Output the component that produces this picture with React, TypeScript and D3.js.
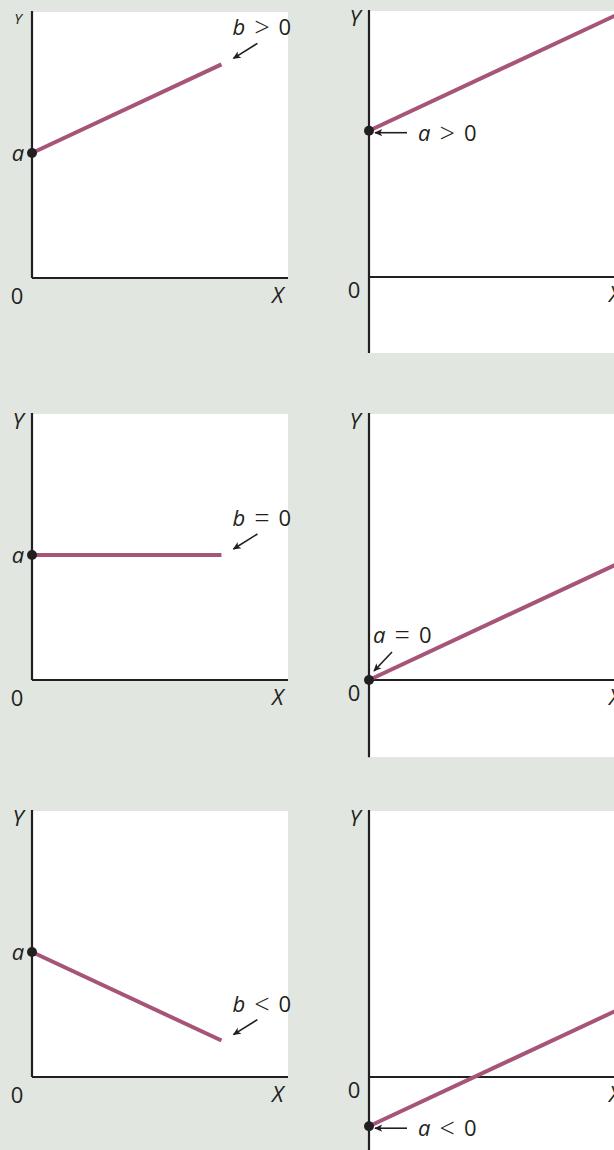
import React from 'react';
import * as d3 from 'd3';

// Six intercept/slope cases of the line Y = a + bX
const annotationVars = ['b', 'a', 'b', 'a', 'b', 'a'];
const annotationOps = ['>', '>', '=', '=', '<', '<'];
const annotationValues = ['0', '0', '0', '0', '0', '0'];
const intercepts = [4.7, 5.5, 4.7, 0, 4.7, -1.85];
const slopes = [0.45, 0.45, 0, 0.45, -0.45, 0.45];
const lineEnds = [7.4, 9.8, 7.4, 9.8, 7.4, 9.8];
const yMins = [0, -2.86, 0, -2.9, 0, -3.1];
const axisMax = 10;

// Layout: origin of each panel (pixel location of X = 0, Y = 0)
const origins: [number, number][] = [
  [32, 278], [369, 277],
  [32, 680], [369, 680],
  [32, 1077], [369, 1077],
];
const panelW = 256;
const panelH = 266;

const INK = '#231f20';
const LINE = '#a65579';
const BG = '#e1e6e1';
const FONT = '"Open Sans", "Noto Sans", sans-serif';
const FS = 22;

function Label({ x, y, v, op, val }: any) {
  return (
    <text x={x} y={y} fontFamily={FONT} fontSize={FS} fill={INK}>
      <tspan fontStyle="italic">{v}</tspan>
      <tspan dx={9} dy={2} fontSize={27} fontWeight={300}>{op}</tspan>
      <tspan dx={9} dy={-2}>{val}</tspan>
    </text>
  );
}

function Panel({ i }: { i: number }) {
  const [ox, oy] = origins[i];
  const x = d3.scaleLinear().domain([0, axisMax]).range([ox, ox + panelW]);
  const y = d3.scaleLinear().domain([0, axisMax]).range([oy, oy - panelH]);
  const a = intercepts[i];
  const b = slopes[i];
  const xEnd = lineEnds[i];
  const pts: [number, number][] = [[0, a], [xEnd, a + b * xEnd]];
  const path = d3.line<[number, number]>().x(d => x(d[0])).y(d => y(d[1]))(pts) || '';
  const top = y(axisMax);
  const bottom = y(yMins[i]);
  const right = i % 2 === 1;
  const dotX = x(0);
  const dotY = y(a);
  const endX = x(xEnd);
  const endY = y(a + b * xEnd);
  const smallY = i === 0;

  let annotation: React.ReactNode = null;
  if (!right) {
    annotation = (
      <g>
        <line x1={endX + 36} y1={endY - 21} x2={endX + 12} y2={endY - 6}
          stroke={INK} strokeWidth={1.6} markerEnd="url(#arrowhead)" />
        <Label x={endX + 11} y={endY - 29} v={annotationVars[i]} op={annotationOps[i]} val={annotationValues[i]} />
      </g>
    );
  } else if (a === 0) {
    annotation = (
      <g>
        <line x1={dotX + 23} y1={dotY - 28} x2={dotX + 5} y2={dotY - 9}
          stroke={INK} strokeWidth={1.6} markerEnd="url(#arrowhead)" />
        <Label x={dotX + 4} y={dotY - 37} v={annotationVars[i]} op={annotationOps[i]} val={annotationValues[i]} />
      </g>
    );
  } else {
    annotation = (
      <g>
        <line x1={dotX + 38} y1={dotY + 2} x2={dotX + 6} y2={dotY + 2}
          stroke={INK} strokeWidth={1.6} markerEnd="url(#arrowhead)" />
        <Label x={dotX + 49} y={dotY + 10} v={annotationVars[i]} op={annotationOps[i]} val={annotationValues[i]} />
      </g>
    );
  }

  return (
    <g>
      <rect x={ox} y={top} width={panelW} height={bottom - top} fill="#ffffff" />
      {/* axes */}
      <line x1={ox} y1={top - 1} x2={ox} y2={bottom} stroke={INK} strokeWidth={2.2} />
      <line x1={ox} y1={oy} x2={ox + panelW} y2={oy} stroke={INK} strokeWidth={2.2} />
      {/* the line Y = a + bX */}
      <path d={path} stroke={LINE} strokeWidth={4} fill="none" />
      <circle cx={dotX} cy={dotY} r={5} fill={INK} />
      {annotation}
      {/* axis labels */}
      <text x={ox - 14} y={top + (smallY ? 12 : 15)} fontFamily={FONT} fontStyle="italic"
        fontSize={smallY ? 15 : FS} fill={INK} textAnchor="middle">Y</text>
      <text x={ox - 15} y={oy + (right ? 21 : 26)} fontFamily={FONT} fontSize={FS} fill={INK} textAnchor="middle">0</text>
      <text x={ox + panelW - 16} y={oy + 25} fontFamily={FONT} fontStyle="italic" fontSize={FS} fill={INK}>X</text>
      {!right && (
        <text x={ox - 14} y={dotY + 8} fontFamily={FONT} fontStyle="italic" fontSize={FS} fill={INK} textAnchor="middle">a</text>
      )}
    </g>
  );
}

export default function App() {
  return (
    <svg width={614} height={1150} style={{ position: 'absolute', left: 0, top: 0, display: 'block' }}>
      <defs>
        <marker id="arrowhead" viewBox="0 0 10 10" refX={9} refY={5} markerUnits="userSpaceOnUse"
          markerWidth={9} markerHeight={8} orient="auto">
          <path d="M0,0.5 L10,5 L0,9.5 L2.5,5 z" fill={INK} />
        </marker>
      </defs>
      <rect x={0} y={0} width={614} height={1150} fill={BG} />
      {origins.map((_, i) => <Panel key={i} i={i} />)}
    </svg>
  );
}
